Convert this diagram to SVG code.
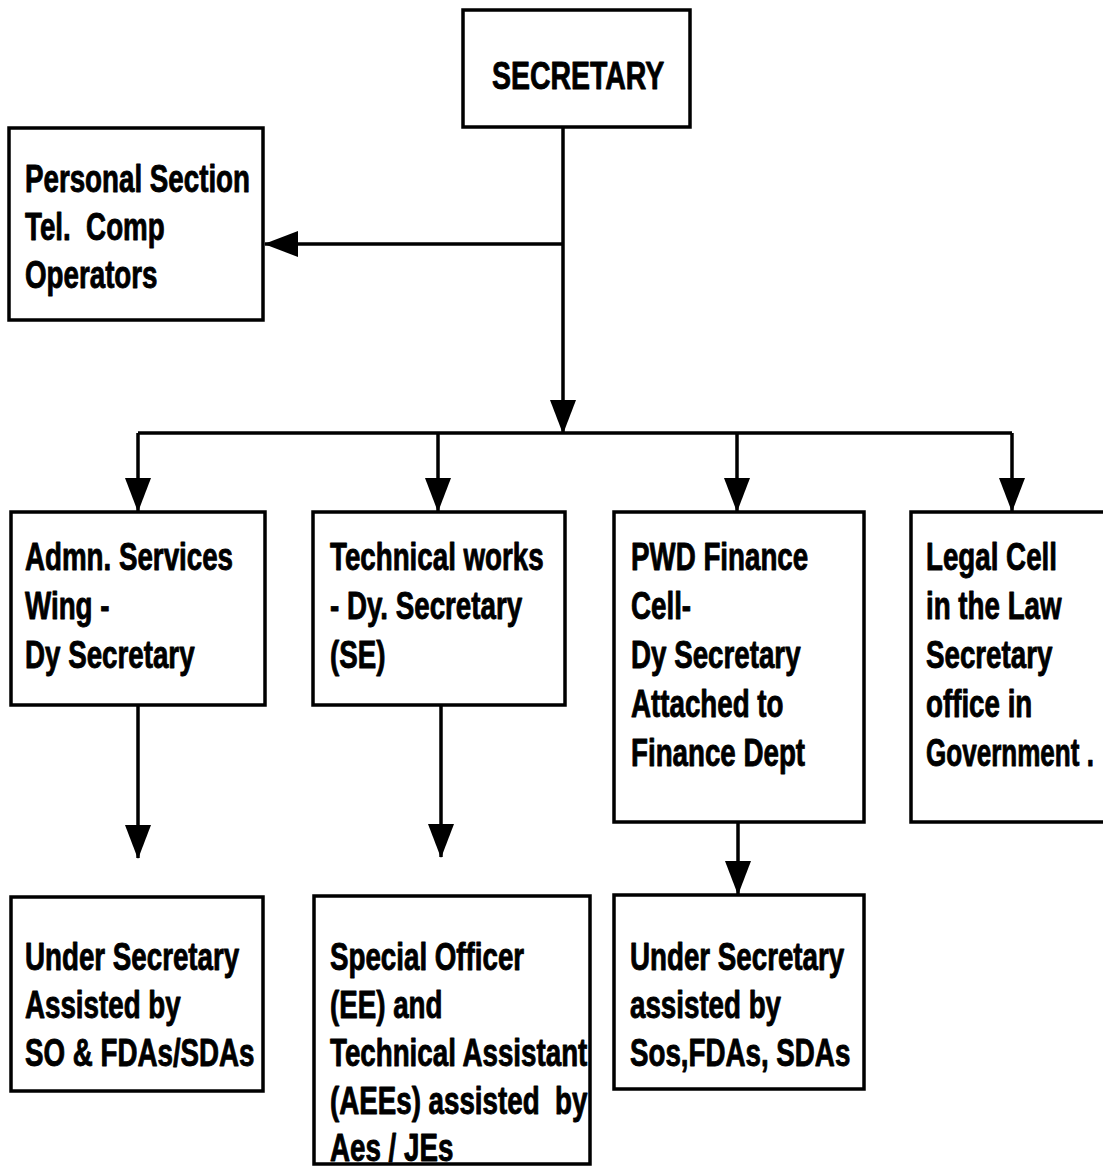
<svg xmlns="http://www.w3.org/2000/svg" width="1103" height="1170" viewBox="0 0 1103 1170">
  <defs>
    <marker id="arrow" markerUnits="userSpaceOnUse" markerWidth="34" markerHeight="26" viewBox="0 0 34 26" refX="33" refY="13" orient="auto">
      <path d="M0,0 L34,13 L0,26 Z" fill="#000"/>
    </marker>
  </defs>
  <style>
    .box{fill:#fff;stroke:#000;stroke-width:3.5}
    .line{fill:none;stroke:#000;stroke-width:3.5}
    .lbl{font-family:"Liberation Sans",Arial,sans-serif;font-weight:bold;font-size:38px;fill:#000;stroke:#000;stroke-width:0.9;stroke-linejoin:round}
    .title{font-size:39px}
  </style>
  <rect width="1103" height="1170" fill="#fff"/>

  <!-- connectors -->
  <g id="connectors">
    <path class="line" d="M563,127 V433" marker-end="url(#arrow)"/>
    <path class="line" d="M563,244 H265" marker-end="url(#arrow)"/>
    <path class="line" d="M138,433 H1012"/>
    <path class="line" d="M138,433 V511" marker-end="url(#arrow)"/>
    <path class="line" d="M438,433 V511" marker-end="url(#arrow)"/>
    <path class="line" d="M737,433 V511" marker-end="url(#arrow)"/>
    <path class="line" d="M1012,433 V511" marker-end="url(#arrow)"/>
    <path class="line" d="M138,705 V858" marker-end="url(#arrow)"/>
    <path class="line" d="M441,705 V857" marker-end="url(#arrow)"/>
    <path class="line" d="M738,822 V894" marker-end="url(#arrow)"/>
  </g>

  <!-- top -->
  <g id="secretary">
    <rect class="box" x="463" y="10" width="227" height="117"/>
    <text class="lbl title" transform="translate(492,89) scale(0.73,1)">SECRETARY</text>
  </g>

  <g id="personal-section">
    <rect class="box" x="9" y="128" width="254" height="192"/>
    <text class="lbl" xml:space="preserve" transform="translate(25,192) scale(0.73,1)"><tspan x="0">Personal Section</tspan><tspan x="0" dy="48">Tel.  Comp</tspan><tspan x="0" dy="48">Operators</tspan></text>
  </g>

  <!-- middle row -->
  <g id="admn-services">
    <rect class="box" x="11" y="512" width="254" height="193"/>
    <text class="lbl" transform="translate(25,570) scale(0.73,1)"><tspan x="0">Admn. Services</tspan><tspan x="0" dy="49">Wing -</tspan><tspan x="0" dy="49">Dy Secretary</tspan></text>
  </g>

  <g id="technical-works">
    <rect class="box" x="313" y="512" width="252" height="193"/>
    <text class="lbl" transform="translate(330,570) scale(0.73,1)"><tspan x="0">Technical works</tspan><tspan x="0" dy="49">- Dy. Secretary</tspan><tspan x="0" dy="49">(SE)</tspan></text>
  </g>

  <g id="pwd-finance">
    <rect class="box" x="614" y="512" width="250" height="310"/>
    <text class="lbl" transform="translate(631,570) scale(0.73,1)"><tspan x="0">PWD Finance</tspan><tspan x="0" dy="49">Cell-</tspan><tspan x="0" dy="49">Dy Secretary</tspan><tspan x="0" dy="49">Attached to</tspan><tspan x="0" dy="49">Finance Dept</tspan></text>
  </g>

  <g id="legal-cell">
    <rect class="box" x="911" y="512" width="200" height="310"/>
    <text class="lbl" transform="translate(926,570) scale(0.73,1)"><tspan x="0">Legal Cell</tspan><tspan x="0" dy="49">in the Law</tspan><tspan x="0" dy="49">Secretary</tspan><tspan x="0" dy="49">office in</tspan><tspan x="0" dy="49" textLength="230" lengthAdjust="spacingAndGlyphs">Government .</tspan></text>
  </g>

  <!-- bottom row -->
  <g id="under-secretary-admn">
    <rect class="box" x="11" y="897" width="252" height="194"/>
    <text class="lbl" transform="translate(25,970) scale(0.73,1)"><tspan x="0">Under Secretary</tspan><tspan x="0" dy="48">Assisted by</tspan><tspan x="0" dy="48">SO &amp; FDAs/SDAs</tspan></text>
  </g>

  <g id="special-officer">
    <rect class="box" x="314" y="896" width="276" height="268"/>
    <text class="lbl" xml:space="preserve" transform="translate(330,970) scale(0.73,1)"><tspan x="0">Special Officer</tspan><tspan x="0" dy="48">(EE) and</tspan><tspan x="0" dy="48">Technical Assistant</tspan><tspan x="0" dy="48">(AEEs) assisted  by</tspan><tspan x="0" dy="47">Aes / JEs</tspan></text>
  </g>

  <g id="under-secretary-finance">
    <rect class="box" x="614" y="895" width="250" height="194"/>
    <text class="lbl" transform="translate(630,970) scale(0.73,1)"><tspan x="0">Under Secretary</tspan><tspan x="0" dy="48">assisted by</tspan><tspan x="0" dy="48">Sos,FDAs, SDAs</tspan></text>
  </g>
</svg>
